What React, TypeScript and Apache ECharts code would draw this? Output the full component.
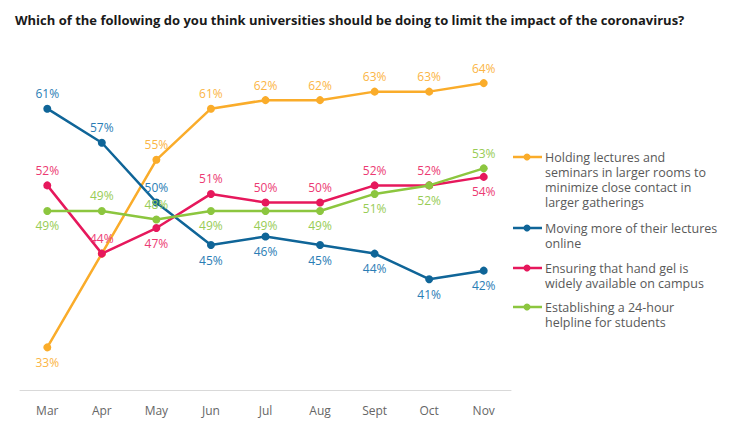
import React, { useEffect, useRef } from "react";
import * as echarts from "echarts";

const categories = ["Mar", "Apr", "May", "Jun", "Jul", "Aug", "Sept", "Oct", "Nov"];
const holdingLarger = [33, 44, 55, 61, 62, 62, 63, 63, 64];
const movingOnline = [61, 57, 50, 45, 46, 45, 44, 41, 42];
const handGel = [52, 44, 47, 51, 50, 50, 52, 52, 53];
const helpline = [49, 49, 48, 49, 49, 49, 51, 52, 54];
// printed labels as shown in the source (Nov labels differ from plotted positions)
const handGelLabels = ["52%", "44%", "47%", "51%", "50%", "50%", "52%", "52%", "54%"];
const helplineLabels = ["49%", "49%", "48%", "49%", "49%", "49%", "51%", "52%", "53%"];

const seriesNames = [
  "Holding lectures and\nseminars in larger rooms to\nminimize close contact in\nlarger gatherings",
  "Moving more of their lectures\nonline",
  "Ensuring that hand gel is\nwidely available on campus",
  "Establishing a 24-hour\nhelpline for students",
];

const colors = ["#FAAC2A", "#0F6598", "#E6185C", "#8CC63F"];
const labelColors = ["#FBB545", "#2A7DB5", "#EC3A73", "#98CC55"];

const positions = [
  ["bottom", "none", "top", "top", "top", "top", "top", "top", "top"],
  ["top", "top", "top", "bottom", "bottom", "bottom", "bottom", "bottom", "bottom"],
  ["top", "top", "bottom", "top", "top", "top", "top", "top", "bottom"],
  ["bottom", "top", "top", "bottom", "bottom", "bottom", "bottom", "bottom", "top"],
];

export default function App() {
  const ref = useRef<HTMLDivElement>(null);
  useEffect(() => {
    if (!ref.current) return;
    const chart = echarts.init(ref.current, undefined, { renderer: "svg" });
    const font = "'Open Sans', sans-serif";
    const values = [holdingLarger, movingOnline, handGel, helpline];
    const labelTexts = [
      holdingLarger.map((v) => v + "%"),
      movingOnline.map((v) => v + "%"),
      handGelLabels,
      helplineLabels,
    ];
    const series = values.map((vals, si) => ({
      type: "line",
      name: seriesNames[si],
      z: si === 0 ? 2 : 3 + si,
      data: vals.map((v, i) => ({
        value: v,
        label: {
          show: positions[si][i] !== "none",
          position: positions[si][i] === "none" ? "top" : positions[si][i],
          distance: 5,
          formatter: labelTexts[si][i],
          color: labelColors[si],
          fontFamily: font,
          fontSize: 12,
        },
      })),
      symbol: "circle",
      symbolSize: 8,
      lineStyle: { width: 2.5, color: colors[si] },
      itemStyle: { color: colors[si] },
    }));

    const legendTops = [157, 228, 268, 307];
    const graphics: any[] = [];
    seriesNames.forEach((name, i) => {
      const y = legendTops[i];
      graphics.push({
        type: "line",
        shape: { x1: 513, y1: y, x2: 542, y2: y },
        style: { stroke: colors[i], lineWidth: 2.5 },
      });
      graphics.push({
        type: "circle",
        shape: { cx: 527, cy: y, r: 3.5 },
        style: { fill: colors[i] },
      });
      name.split("\n").forEach((line, li) => {
        graphics.push({
          type: "text",
          x: 545,
          y: y + li * 15,
          style: {
            text: line,
            fill: "#595959",
            font: "12.5px 'Open Sans', sans-serif",
            lineHeight: 14,
            textVerticalAlign: "middle",
          },
        });
      });
    });

    chart.setOption({
      animation: false,
      title: {
        text: "Which of the following do you think universities should be doing to limit the impact of the coronavirus?",
        left: 10,
        top: 8,
        textStyle: { fontFamily: font, fontWeight: "bold", fontSize: 13, color: "#1a1a1a" },
      },
      grid: { left: 20, right: 222, top: 49, bottom: 44 },
      xAxis: {
        type: "category",
        data: categories,
        boundaryGap: true,
        axisLine: { lineStyle: { color: "#D9D9D9", width: 1 } },
        axisTick: { show: false },
        axisLabel: { color: "#666", fontFamily: font, fontSize: 12, margin: 14 },
      },
      yAxis: { type: "value", min: 28, max: 68, show: false, splitLine: { show: false } },
      series,
      graphic: graphics,
    });
    return () => chart.dispose();
  }, []);
  return <div ref={ref} style={{ width: 733, height: 434, position: "absolute", left: 0, top: 0, background: "#fff" }} />;
}
